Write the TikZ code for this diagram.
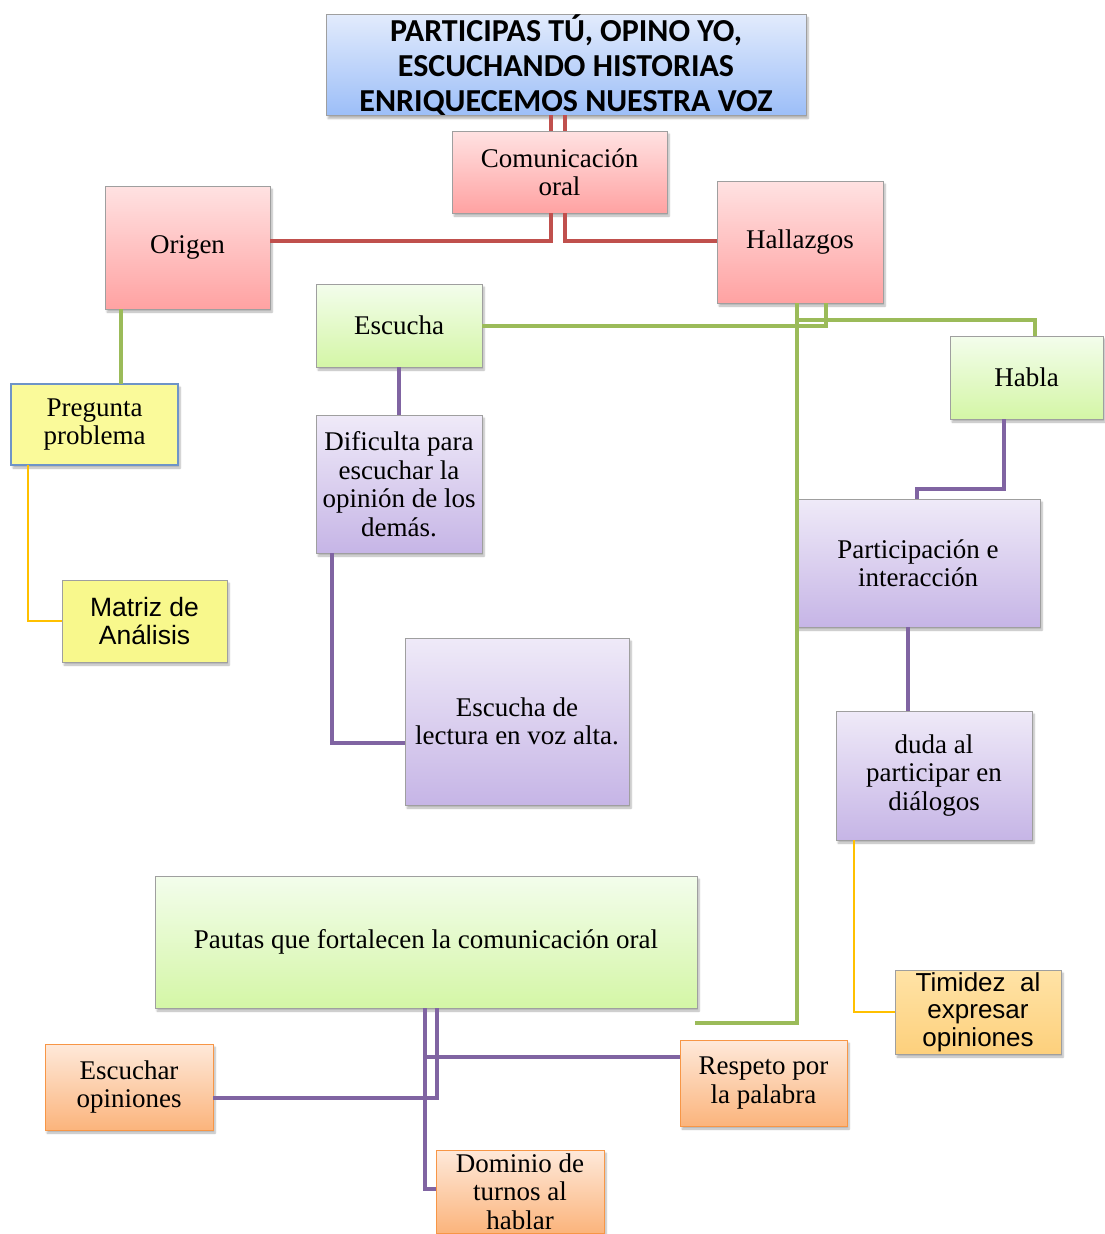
\documentclass[tikz,border=0pt]{standalone}
\usepackage{fontspec}
\setmainfont{Liberation Serif}
\newfontfamily\titlefont{Carlito}
\newfontfamily\arialfont{Liberation Sans}
\usetikzlibrary{shadows.blur}
\definecolor{redline}{HTML}{C0504D}
\definecolor{greenline}{HTML}{9BBB59}
\definecolor{purpleline}{HTML}{8064A2}
\definecolor{orangeline}{HTML}{FFC000}
\definecolor{titletop}{HTML}{E2EBFC}
\definecolor{titlebot}{HTML}{9CBEF8}
\definecolor{redtop}{HTML}{FFE2E2}
\definecolor{redbot}{HTML}{FFA2A2}
\definecolor{greentop}{HTML}{F3FDEC}
\definecolor{greenbot}{HTML}{D4F6A6}
\definecolor{purpletop}{HTML}{EFEAF8}
\definecolor{purplebot}{HTML}{C6B5E6}
\definecolor{orangetop}{HTML}{FEE9DA}
\definecolor{orangebot}{HTML}{FBB47C}
\definecolor{orangeedge}{HTML}{F79646}
\definecolor{pregfill}{HTML}{FAFA9A}
\definecolor{pregedge}{HTML}{6E94C8}
\definecolor{matrizfill}{HTML}{F8F88C}
\definecolor{timtop}{HTML}{FFE3A6}
\definecolor{timbot}{HTML}{FDD07C}

\begin{document}
\begin{tikzpicture}[
          x=1pt, y=-1pt,
          box/.style={rectangle, draw=gray!75, line width=1pt, inner sep=0pt, outer sep=0pt, align=center, font=\fontsize{27}{28.5}\selectfont, blur shadow={shadow xshift=2pt, shadow yshift=-3pt, shadow blur steps=6, shadow opacity=30}},
          titlebox/.style={box, top color=titletop, bottom color=titlebot, font=\titlefont\bfseries\fontsize{32}{35}\selectfont},
          redbox/.style={box, top color=redtop, bottom color=redbot},
          greenbox/.style={box, top color=greentop, bottom color=greenbot},
          purplebox/.style={box, top color=purpletop, bottom color=purplebot},
          orangebox/.style={box, draw=orangeedge, top color=orangetop, bottom color=orangebot},
          pregbox/.style={box, draw=pregedge, line width=1.6pt, fill=pregfill},
          matrizbox/.style={box, fill=matrizfill, font=\arialfont\fontsize{26.5}{28}\selectfont},
          timbox/.style={box, top color=timtop, bottom color=timbot, font=\arialfont\fontsize{26}{27.5}\selectfont},
          redcon/.style={draw=redline, line width=4.5pt},
          greencon/.style={draw=greenline, line width=4.5pt},
          purplecon/.style={draw=purpleline, line width=4pt},
          orangecon/.style={draw=orangeline, line width=2pt}
        ]
          \useasboundingbox (0,0) rectangle (1104,1234);

          % Title and first level
          \node[titlebox, minimum width=480pt, minimum height=100pt] (titulo) at (566,65) {PARTICIPAS TÚ, OPINO YO,\\ESCUCHANDO HISTORIAS\\ENRIQUECEMOS NUESTRA VOZ};
          \node[redbox, minimum width=215pt, minimum height=82pt] (comunic) at (559.5,172) {Comunicación\\oral};
          \node[redbox, minimum width=165pt, minimum height=123pt] (origen) at (187.5,247.5) {Origen};
          \node[redbox, minimum width=166pt, minimum height=122pt] (hallazgos) at (800,242) {Hallazgos};

          % Left branch
          \node[pregbox, minimum width=167pt, minimum height=81pt] (pregunta) at (94.5,424.5) {Pregunta\\problema};
          \node[matrizbox, minimum width=165pt, minimum height=82pt] (matriz) at (144.5,621) {Matriz de\\Análisis};

          % Middle branch
          \node[greenbox, minimum width=166pt, minimum height=83pt] (escucha) at (399,325.5) {Escucha};
          \node[purplebox, minimum width=166pt, minimum height=138pt] (dificulta) at (399,484) {Dificulta para\\escuchar la\\opinión de los\\demás.};
          \node[purplebox, minimum width=224pt, minimum height=167pt] (lectura) at (517,721.5) {Escucha de\\lectura en voz alta.};

          % Right branch
          \node[greenbox, minimum width=153pt, minimum height=83pt] (habla) at (1026.5,377.5) {Habla};
          \node[purplebox, minimum width=244pt, minimum height=128pt] (particip) at (918,563) {Participación e\\interacción};
          \node[purplebox, minimum width=196pt, minimum height=129pt] (duda) at (934,775.5) {duda al\\participar en\\diálogos};
          \node[timbox, minimum width=166pt, minimum height=84pt] (timidez) at (978,1012) {Timidez\ \ al\\expresar\\opiniones};

          % Pautas
          \node[greenbox, minimum width=542pt, minimum height=132pt] (pautas) at (426,942) {Pautas que fortalecen la comunicación oral};
          \node[orangebox, minimum width=168pt, minimum height=86pt] (escuchar) at (129,1087) {Escuchar\\opiniones};
          \node[orangebox, minimum width=167pt, minimum height=86pt] (respeto) at (763.5,1083) {Respeto por\\la palabra};
          \node[orangebox, minimum width=168pt, minimum height=83pt] (dominio) at (520,1191.5) {Dominio de\\turnos al\\hablar};
          \coordinate (pautasend) at (695,1023);

          % Connections
          \draw[redcon] (titulo.south -| 551,0) -- (comunic.north -| 551,0);
          \draw[redcon] (titulo.south -| 565,0) -- (comunic.north -| 565,0);
          \draw[redcon] (comunic.south -| 551,0) |- (origen.east |- 0,241);
          \draw[redcon] (comunic.south -| 565,0) |- (hallazgos.west |- 0,241);

          \draw[greencon] (origen.south -| 121,0) -- (pregunta.north -| 121,0);
          \draw[greencon] (hallazgos.south -| 826,0) |- (escucha.east |- 0,326);
          \draw[greencon] (hallazgos.south -| 797,0) |- (1035,320) -- (habla.north -| 1035,0);
          \draw[greencon] (hallazgos.south -| 797,0) |- (pautasend);

          \draw[purplecon] (escucha.south) -- (dificulta.north);
          \draw[purplecon] (dificulta.south -| 332,0) |- (lectura.west |- 0,743);
          \draw[purplecon] (habla.south -| 1004,0) |- (917,489) -- (particip.north -| 917,0);
          \draw[purplecon] (particip.south -| 908,0) -- (duda.north -| 908,0);
          \draw[purplecon] (pautas.south -| 437,0) |- (escuchar.east |- 0,1098);
          \draw[purplecon] (pautas.south -| 425,0) |- (respeto.west |- 0,1057);
          \draw[purplecon] (pautas.south -| 425,0) |- (dominio.west |- 0,1189);

          \draw[orangecon] (pregunta.south -| 28,0) |- (matriz.west |- 0,621);
          \draw[orangecon] (duda.south -| 854,0) |- (timidez.west |- 0,1012);
        \end{tikzpicture}
\end{document}
